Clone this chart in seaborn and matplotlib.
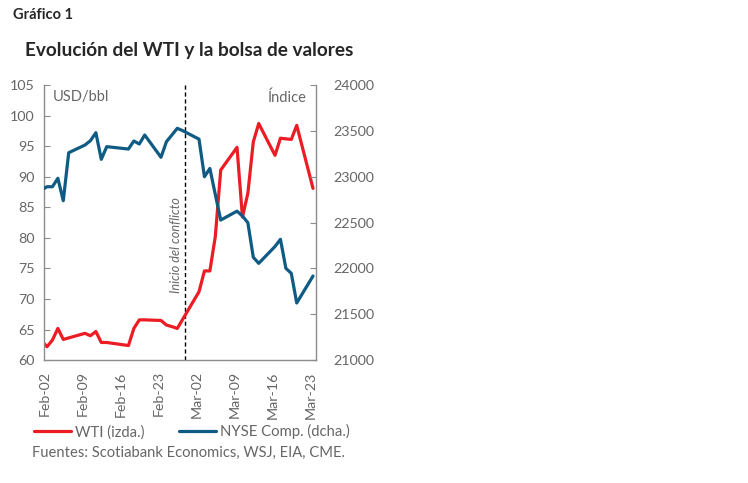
import pandas as pd
import seaborn as sns
import matplotlib.pyplot as plt
import matplotlib.dates as mdates

sns.set_style('white')
plt.rcParams['font.family'] = ['Lato', 'DejaVu Sans']

# trading days, Jan 30 sits just left of the axis and is clipped
dates = ['2026-01-30',
         '2026-02-02', '2026-02-03', '2026-02-04', '2026-02-05', '2026-02-06',
         '2026-02-09', '2026-02-10', '2026-02-11', '2026-02-12', '2026-02-13',
         '2026-02-17', '2026-02-18', '2026-02-19', '2026-02-20',
         '2026-02-23', '2026-02-24', '2026-02-25', '2026-02-26', '2026-02-27',
         '2026-03-02', '2026-03-03', '2026-03-04', '2026-03-05', '2026-03-06',
         '2026-03-09', '2026-03-10', '2026-03-11', '2026-03-12', '2026-03-13',
         '2026-03-16', '2026-03-17', '2026-03-18', '2026-03-19', '2026-03-20',
         '2026-03-23']
wti = [65.2,
       62.2, 63.3, 65.2, 63.4, 63.65,
       64.4, 64.0, 64.7, 62.9, 62.9,
       62.4, 65.2, 66.6, 66.6,
       66.5, 65.75, 65.5, 65.2, 66.7,
       71.2, 74.6, 74.6, 80.2, 91.1,
       94.8, 83.4, 87.3, 95.7, 98.7,
       93.5, 96.3, 96.2, 96.1, 98.4,
       88.1]
nyse = [22790,
        22891, 22891, 22983, 22739, 23262,
        23346, 23393, 23480, 23190, 23328,
        23302, 23390, 23357, 23455,
        23212, 23382, 23455, 23528, 23502,
        23410, 23000, 23090, 22807, 22528,
        22625, 22572, 22499, 22122, 22056,
        22240, 22318, 22002, 21947, 21624,
        21918]
conflict_date = '2026-02-28'
tick_dates = ['2026-02-02', '2026-02-09', '2026-02-16', '2026-02-23',
              '2026-03-02', '2026-03-09', '2026-03-16', '2026-03-23']

red = '#EC1C24'
blue = '#0F5B84'
grey_txt = '#666666'
grey_ax = '#8C8C8C'

df = pd.DataFrame({'date': pd.to_datetime(dates) + pd.Timedelta(hours=12),
                   'wti': wti, 'nyse': nyse})

fig = plt.figure(figsize=(7.48, 4.83), dpi=100)
ax = fig.add_axes([0.0592, 0.2542, 0.3629, 0.5698])
ax2 = ax.twinx()

sns.lineplot(data=df, x='date', y='wti', ax=ax, color=red, lw=2.3, label='WTI (izda.)', legend=False)
sns.lineplot(data=df, x='date', y='nyse', ax=ax2, color=blue, lw=2.3, label='NYSE Comp. (dcha.)', legend=False)

ax.axvline(pd.Timestamp(conflict_date), color='black', lw=1, ls=(0, (3, 2)), zorder=1)
ax.annotate('Inicio del conflicto', xy=(pd.Timestamp(conflict_date), 0.42),
            xycoords=('data', 'axes fraction'), xytext=(-7, 0), textcoords='offset points',
            rotation=90, ha='center', va='center', style='italic', fontsize=9.2, color=grey_txt)

ax.set_xlim(pd.Timestamp('2026-02-02'), pd.Timestamp('2026-03-24'))
ax.set_ylim(60, 105)
ax2.set_ylim(21000, 24000)
ax.set_yticks(range(60, 106, 5))
ax2.set_yticks(range(21000, 24001, 500))
ax.set_xticks(pd.to_datetime(tick_dates))
ax.xaxis.set_major_formatter(mdates.DateFormatter('%b-%d'))
ax.set_xlabel('')
ax.set_ylabel('')
ax2.set_ylabel('')

for a in (ax, ax2):
    a.spines['top'].set_visible(False)
    for s in ('left', 'right', 'bottom'):
        a.spines[s].set_color(grey_ax)
        a.spines[s].set_linewidth(1)
ax.spines['right'].set_visible(False)
ax2.spines['left'].set_visible(False)
ax2.spines['bottom'].set_visible(False)

ax.tick_params(axis='y', direction='in', length=4, color=grey_ax, labelsize=10.3, labelcolor=grey_txt, pad=7)
ax2.tick_params(axis='y', direction='in', length=4, color=grey_ax, labelsize=10.3, labelcolor=grey_txt, pad=13)
ax.tick_params(axis='x', direction='out', length=4, color=grey_ax, labelsize=10.3, labelcolor=grey_txt,
               rotation=90, pad=4)

ax.text(0.03, 0.955, 'USD/bbl', transform=ax.transAxes, ha='left', va='center', fontsize=10.5, color=grey_txt)
ax.text(0.968, 0.955, 'Índice', transform=ax.transAxes, ha='right', va='center', fontsize=10.5, color=grey_txt)

fig.text(0.017, 0.968, 'Gráfico 1', fontsize=10.5, fontweight='bold', va='center', ha='left')
fig.text(0.033, 0.896, 'Evolución del WTI y la bolsa de valores', fontsize=13.7, fontweight='bold',
         va='center', ha='left')
fig.text(0.043, 0.062, 'Fuentes: Scotiabank Economics, WSJ, EIA, CME.', fontsize=10.6, color=grey_txt,
         va='center', ha='left')

h1, l1 = ax.get_legend_handles_labels()
h2, l2 = ax2.get_legend_handles_labels()
fig.legend(h1 + h2, l1 + l2, loc='center left', bbox_to_anchor=(0.027, 0.106), ncol=2, frameon=False,
           fontsize=10.7, handlelength=2.5, handletextpad=0.3, columnspacing=2.3, labelcolor=grey_txt)

fig.savefig('out.png', dpi=100)
